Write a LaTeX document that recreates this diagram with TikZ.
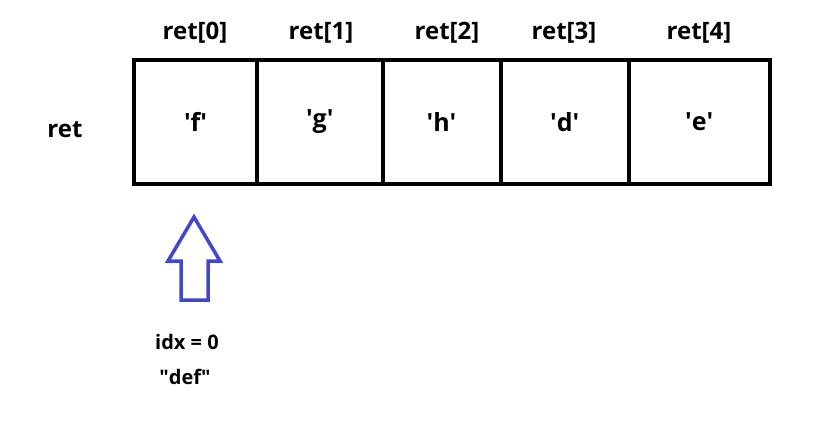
\documentclass[tikz,border=0pt]{standalone}
\usepackage{fontspec}
\setmainfont{Open Sans}
\usepackage{xcolor}
\definecolor{arrowblue}{RGB}{63,72,204}

\begin{document}
\begin{tikzpicture}[x=1pt, y=-1pt,
    cell/.style={rectangle, draw, line width=4pt, minimum height=124pt, inner sep=0pt, font=\fontsize{25}{28}\selectfont\bfseries},
    idxlabel/.style={font=\fontsize{24}{28}\selectfont\bfseries},
    note/.style={font=\fontsize{20}{24}\selectfont\bfseries}]
    \useasboundingbox (0,0) rectangle (819,442);

    \node[cell, minimum width=123pt] (c0) at (195.5,122) {\textquotesingle f\textquotesingle};
    \node[cell, minimum width=125.5pt] (c1) at (319.75,122) {\textquotesingle g\textquotesingle};
    \node[cell, minimum width=118pt] (c2) at (441.5,122) {\textquotesingle h\textquotesingle};
    \node[cell, minimum width=128.5pt] (c3) at (564.75,122) {\textquotesingle d\textquotesingle};
    \node[cell, minimum width=140.5pt] (c4) at (699.25,122) {\textquotesingle e\textquotesingle};

    \node[idxlabel] (r0) at (195,33) {ret[0]};
    \node[idxlabel] (r1) at (321,33) {ret[1]};
    \node[idxlabel] (r2) at (447,33) {ret[2]};
    \node[idxlabel] (r3) at (564,33) {ret[3]};
    \node[idxlabel] (r4) at (699,33) {ret[4]};

    \node[idxlabel] (ret) at (65,130) {ret};

    % pointer
    \draw[arrowblue, line width=3.5pt, line join=miter] (181,300) -- (181,261) -- (168,261) -- (194,217) -- (220,261) -- (208,261) -- (208,300) -- cycle;

    \node[note] (idx) at (187,342) {idx = 0};
    \node[note] (str) at (185,377) {\textquotedbl def\textquotedbl};
\end{tikzpicture}
\end{document}
